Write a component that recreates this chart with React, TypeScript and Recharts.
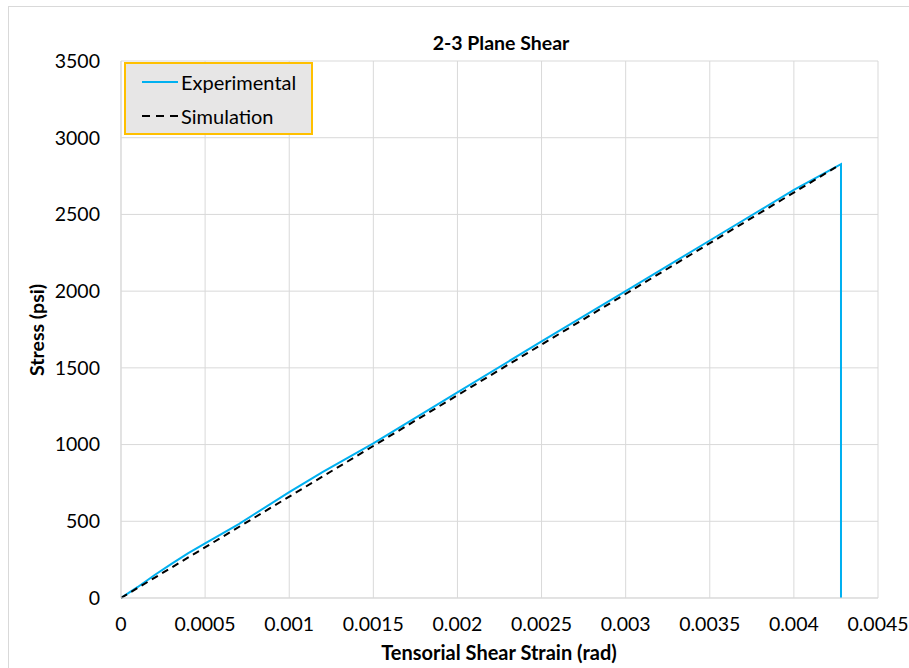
import React from 'react'
import {
  LineChart,
  Line,
  XAxis,
  YAxis,
  CartesianGrid,
} from 'recharts'

// Experimental curve (strain in rad, stress in psi)
const expStrain = [0, 0.0001, 0.0002, 0.0003, 0.0004, 0.0005, 0.0007, 0.001, 0.0012, 0.0015, 0.002, 0.0025, 0.003, 0.0035, 0.004, 0.00428, 0.00428]
const expStress = [0, 72, 150, 222, 292, 356, 482, 690, 822, 1008, 1340, 1672, 2000, 2330, 2660, 2828, 0]

// Simulation (linear elastic)
const simStrain = [0, 0.00425]
const simStress = [0, 2808]

const xTicks = [0, 0.0005, 0.001, 0.0015, 0.002, 0.0025, 0.003, 0.0035, 0.004, 0.0045]
const yTicks = [0, 500, 1000, 1500, 2000, 2500, 3000, 3500]

const expData = expStrain.map((x, i) => ({ x, y: expStress[i] }))
const simData = simStrain.map((x, i) => ({ x, y: simStress[i] }))

const COLORS = {
  exp: '#00b0f0',
  sim: '#000000',
  grid: '#d9d9d9',
  text: '#000000',
  legendBorder: '#ffc000',
  legendFill: '#e7e6e6',
}

const FONT = 'Lato, "Open Sans", sans-serif'

const fmt = (v: number) => (v === 0 ? '0' : String(+v.toFixed(4)))

// legend drawn as a plain box over the plot, like the original
const LegendBox = () => (
  <div
    style={{
      position: 'absolute',
      left: 124,
      top: 62,
      width: 185,
      height: 69,
      border: `2px solid ${COLORS.legendBorder}`,
      background: COLORS.legendFill,
      fontFamily: FONT,
      fontSize: 20,
      color: COLORS.text,
    }}
  >
    <div style={{ position: 'absolute', left: 15, top: 3, height: 30, display: 'flex', alignItems: 'center' }}>
      <svg width={38} height={12}>
        <line x1={1} y1={6} x2={37} y2={6} stroke={COLORS.exp} strokeWidth={2} />
      </svg>
      <span style={{ marginLeft: 2 }}>Experimental</span>
    </div>
    <div style={{ position: 'absolute', left: 15, top: 37, height: 30, display: 'flex', alignItems: 'center' }}>
      <svg width={38} height={12}>
        <line x1={1} y1={6} x2={37} y2={6} stroke={COLORS.sim} strokeWidth={2} strokeDasharray="8 6" />
      </svg>
      <span style={{ marginLeft: 2 }}>Simulation</span>
    </div>
  </div>
)

export default function App() {
  return (
    <div style={{ position: 'fixed', left: 0, top: 0, width: 909, height: 668, overflow: 'hidden', background: '#fff' }}>
      <div style={{ position: 'absolute', left: 8, top: 6, width: 960, height: 720, border: '1px solid #d9d9d9' }} />
      <LineChart
        width={909}
        height={668}
        margin={{ top: 61, right: 31, bottom: 0, left: 0 }}
        style={{ position: 'absolute', left: 0, top: 0, fontFamily: FONT }}
      >
        <CartesianGrid stroke={COLORS.grid} strokeWidth={1} />
        <XAxis
          type="number"
          dataKey="x"
          domain={[0, 0.0045]}
          ticks={xTicks}
          tickFormatter={fmt}
          height={70}
          tickLine={false}
          tickSize={0}
          tickMargin={19}
          axisLine={{ stroke: COLORS.grid }}
          tick={{ fill: COLORS.text, fontSize: 19.5 }}
          allowDataOverflow
        />
        <YAxis
          type="number"
          dataKey="y"
          domain={[0, 3500]}
          ticks={yTicks}
          width={121}
          tickLine={false}
          tickSize={0}
          tickMargin={21}
          axisLine={{ stroke: COLORS.grid }}
          tick={{ fill: COLORS.text, fontSize: 19.5 }}
        />
        <Line
          data={expData}
          dataKey="y"
          type="linear"
          stroke={COLORS.exp}
          strokeWidth={2}
          dot={false}
          isAnimationActive={false}
        />
        <Line
          data={simData}
          dataKey="y"
          type="linear"
          stroke={COLORS.sim}
          strokeWidth={2}
          strokeDasharray="7 5"
          dot={false}
          isAnimationActive={false}
        />
        <text x={501} y={42} textAnchor="middle" dominantBaseline="central" fontWeight="bold" fontSize={19.5} fill={COLORS.text}>
          2-3 Plane Shear
        </text>
        <text x={499} y={652} textAnchor="middle" dominantBaseline="central" fontWeight="bold" fontSize={20} fill={COLORS.text}>
          Tensorial Shear Strain (rad)
        </text>
        <text
          x={36}
          y={330}
          textAnchor="middle"
          dominantBaseline="central"
          fontWeight="bold"
          fontSize={19.5}
          fill={COLORS.text}
          transform="rotate(-90 36 330)"
        >
          Stress (psi)
        </text>
      </LineChart>
      <LegendBox />
    </div>
  )
}
